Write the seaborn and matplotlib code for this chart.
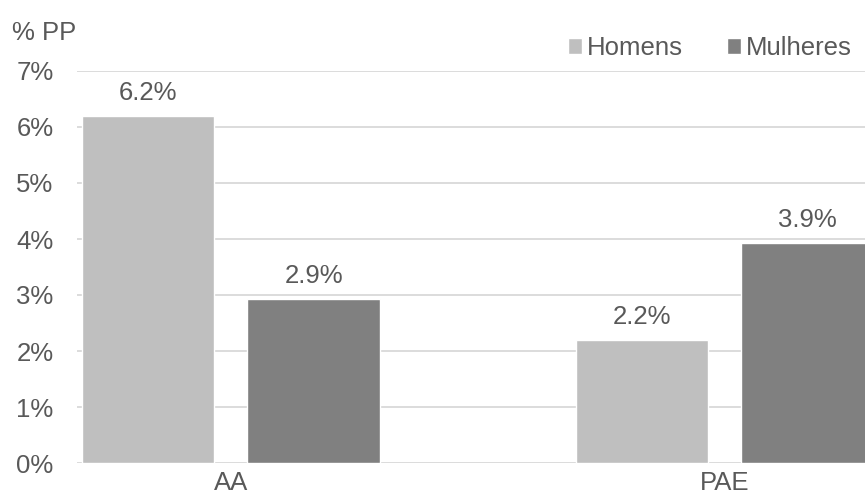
import matplotlib
matplotlib.use("Agg")
import matplotlib.pyplot as plt
import seaborn as sns
import pandas as pd
from matplotlib.ticker import FuncFormatter

categories = ["AA", "PAE"]
homens = [6.2, 2.2]
mulheres = [2.93, 3.92]
series_names = ["Homens", "Mulheres"]
y_ticks = [0, 1, 2, 3, 4, 5, 6, 7]

df = pd.DataFrame({
    "cat": categories * 2,
    "sexo": [series_names[0]] * len(categories) + [series_names[1]] * len(categories),
    "val": homens + mulheres,
})

sns.set_theme(style="white")
plt.rcParams['font.family'] = ['Liberation Sans', 'DejaVu Sans']
txt = "#595959"
fs = 18.5

W, H = 865, 494
fig = plt.figure(figsize=(W / 100, H / 100), dpi=100)
ax = fig.add_axes([77 / W, 31 / H, (865 - 77) / W, (463 - 71) / H])

sns.barplot(data=df, x="cat", y="val", hue="sexo", order=categories,
            hue_order=series_names, palette=["#BFBFBF", "#808080"],
            width=0.67, gap=0.2, saturation=1, ax=ax, legend=True)

for c in ax.containers:
    ax.bar_label(c, labels=[f"{v:.1f}%" for v in c.datavalues],
                 padding=8, fontsize=fs, color=txt)

ax.set_ylim(0, 7)
ax.set_xlim(-0.312, 1.285)
ax.set_yticks(y_ticks)
ax.yaxis.set_major_formatter(FuncFormatter(lambda v, p: f"{int(v)}%"))
ax.grid(axis="y", color="#D9D9D9", linewidth=1.3)
ax.set_axisbelow(True)
for s in ax.spines.values():
    s.set_visible(False)
ax.tick_params(axis="y", length=0, pad=17, labelsize=fs, labelcolor=txt)
ax.tick_params(axis="x", length=0, pad=6, labelsize=fs, labelcolor=txt)
ax.set_xlabel("")
ax.set_ylabel("")

handles, labels = ax.get_legend_handles_labels()
ax.get_legend().remove()
fig.legend(handles, labels, loc="center right",
           bbox_to_anchor=(852 / W, 1 - 48 / H), ncol=2, frameon=False,
           fontsize=fs, labelcolor=txt, handlelength=0.55, handleheight=0.55,
           handletextpad=0.2, columnspacing=1.7, borderpad=0, borderaxespad=0)

fig.text(12 / W, 1 - 33 / H, "% PP", fontsize=fs, color=txt, va="center", ha="left")

fig.savefig("out.png", dpi=100)
